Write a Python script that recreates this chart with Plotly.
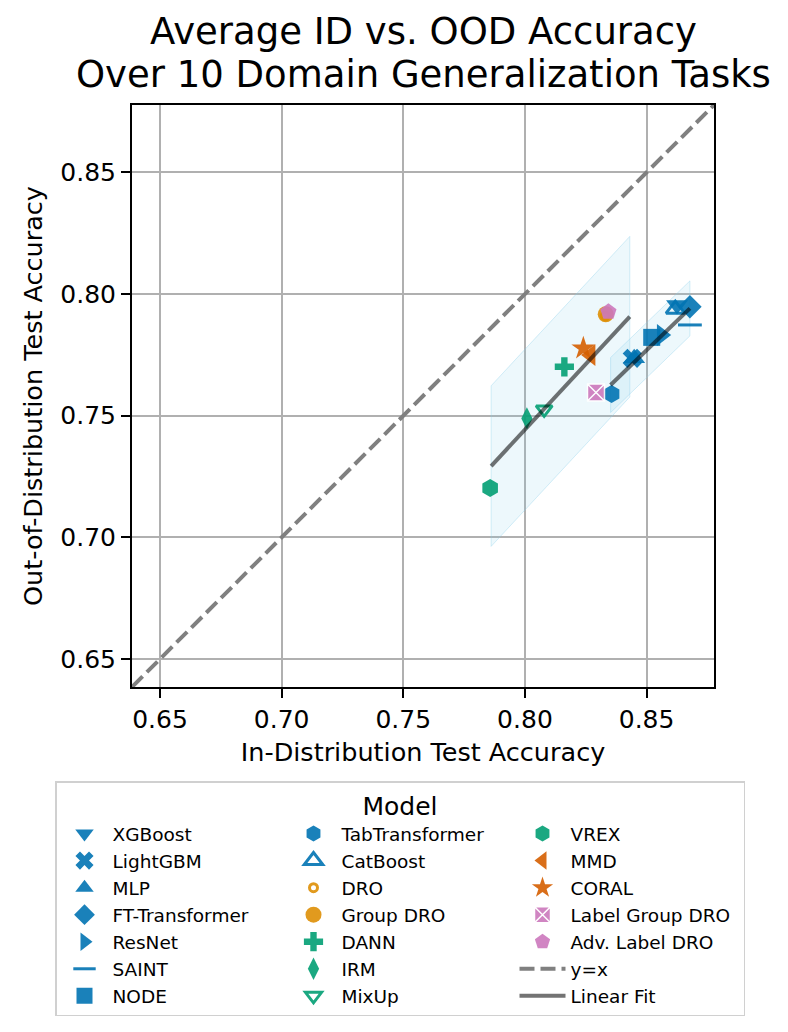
import numpy as np
import plotly.graph_objects as go

# --- Data ---
models = [
    "XGBoost", "LightGBM", "MLP", "FT-Transformer", "ResNet", "SAINT", "NODE",
    "TabTransformer", "CatBoost", "DRO", "Group DRO", "DANN", "IRM", "MixUp",
    "VREX", "MMD", "CORAL", "Label Group DRO", "Adv. Label DRO",
]
id_acc = [
    0.8625, 0.8441, 0.8449, 0.8678, 0.8562, 0.8678, 0.8521,
    0.8356, 0.8618, 0.8330, 0.8332, 0.8162, 0.8008, 0.8079,
    0.7857, 0.8270, 0.8240, 0.8292, 0.8343,
]
ood_acc = [
    0.7955, 0.7736, 0.7736, 0.7948, 0.7832, 0.7873, 0.7822,
    0.7589, 0.7938, 0.7910, 0.7917, 0.7701, 0.7489, 0.7526,
    0.7203, 0.7749, 0.7777, 0.7595, 0.7927,
]

# linear fits (end points) and half width of the shaded band
fit1_x = [0.7861, 0.8431]
fit1_y = [0.7293, 0.7907]
fit1_halfwidth = 0.033
fit2_x = [0.8352, 0.8678]
fit2_y = [0.7626, 0.7941]
fit2_halfwidth = 0.0113

axis_range = [0.6385, 0.8777]
tick_vals = [0.65, 0.70, 0.75, 0.80, 0.85]

title_lines = ["Average ID vs. OOD Accuracy", "Over 10 Domain Generalization Tasks"]

# --- Styles ---
BLUE = "#0173B2"
ORANGE = "#DE8F05"
GREEN = "#029E73"
RED = "#D55E00"
PINK = "#CC78BC"

style = {
    "XGBoost": ("triangle-down", BLUE, 19),
    "LightGBM": ("x", BLUE, 17),
    "MLP": ("triangle-up", BLUE, 19),
    "FT-Transformer": ("diamond", BLUE, 18),
    "ResNet": ("triangle-right", BLUE, 19),
    "SAINT": ("line-ew", BLUE, 17),
    "NODE": ("square", BLUE, 17),
    "TabTransformer": ("hexagon", BLUE, 18),
    "CatBoost": ("triangle-up-open", BLUE, 16),
    "DRO": ("circle-open", ORANGE, 8),
    "Group DRO": ("circle", ORANGE, 16),
    "DANN": ("cross", GREEN, 16),
    "IRM": ("diamond-tall", GREEN, 16),
    "MixUp": ("triangle-down-open", GREEN, 14),
    "VREX": ("hexagon", GREEN, 18),
    "MMD": ("triangle-left", RED, 19),
    "CORAL": ("star", RED, 18),
    "Label Group DRO": ("square-x", PINK, 17),
    "Adv. Label DRO": ("pentagon", PINK, 17),
}

FONT = "DejaVu Sans"
N_ROWS = 7
W, H = 788, 1032
OFFSET = 8  # the page body adds 8px on the top/left

# plot area in pixels as seen in the reference
PLOT_TOP, PLOT_BOTTOM = 105 - OFFSET, 687 - OFFSET
PLOT_LEFT, PLOT_RIGHT = 132 - OFFSET, 714 - OFFSET
PLOT_H = PLOT_BOTTOM - PLOT_TOP
PLOT_W = PLOT_RIGHT - PLOT_LEFT


def legend_rank(i):
    # legend is laid out in 3 columns, filled column by column
    col, row = divmod(i, N_ROWS)
    return 10 + row * 3 + col


def band(xs, ys, h):
    return ([xs[0], xs[1], xs[1], xs[0], xs[0]],
            [ys[0] + h, ys[1] + h, ys[1] - h, ys[0] - h, ys[0] + h])


fig = go.Figure()

# shaded bands
for xs, ys, h in [(fit1_x, fit1_y, fit1_halfwidth), (fit2_x, fit2_y, fit2_halfwidth)]:
    bx, by = band(xs, ys, h)
    fig.add_trace(go.Scatter(
        x=bx, y=by, mode="lines", fill="toself",
        fillcolor="rgba(135,206,235,0.15)",
        line=dict(color="rgba(135,206,235,0.35)", width=1),
        showlegend=False, hoverinfo="skip",
    ))

# y = x reference
fig.add_trace(go.Scatter(
    x=axis_range, y=axis_range, mode="lines", name="y=x",
    line=dict(color="gray", width=4, dash="15px,6px"),
    legendrank=legend_rank(len(models)),
))

# model points
for i, (m, xv, yv) in enumerate(zip(models, id_acc, ood_acc)):
    sym, col, size = style[m]
    marker = dict(symbol=sym, color=col, size=size, opacity=0.9)
    if sym.endswith("open") or sym == "line-ew":
        marker["line"] = dict(color=col, width=3)
    elif sym == "square-x":
        marker["line"] = dict(color="white", width=1.5)
    else:
        marker["line"] = dict(width=0)
    fig.add_trace(go.Scatter(
        x=[xv], y=[yv], mode="markers", name=m, marker=marker,
        legendrank=legend_rank(i),
    ))

# fit lines
for k, (xs, ys) in enumerate([(fit1_x, fit1_y), (fit2_x, fit2_y)]):
    fig.add_trace(go.Scatter(
        x=xs, y=ys, mode="lines", name="Linear Fit",
        line=dict(color="rgba(0,0,0,0.55)", width=4),
        showlegend=(k == 0), legendrank=legend_rank(len(models) + 1),
    ))

# two-line title
for text, py in zip(title_lines, [31, 75]):
    fig.add_annotation(
        text=text, x=0.5, xref="paper", xanchor="center",
        y=(PLOT_BOTTOM - (py - OFFSET)) / PLOT_H, yref="paper", yanchor="middle",
        showarrow=False, font=dict(size=37, color="black"),
    )

axis_common = dict(
    range=axis_range, tickvals=tick_vals, tickformat=".2f",
    showgrid=True, gridcolor="#b0b0b0", gridwidth=2,
    showline=True, linecolor="black", linewidth=2, mirror=True,
    ticks="outside", ticklen=9, tickwidth=2, tickcolor="black",
    tickfont=dict(size=25, color="black"), zeroline=False,
)

fig.update_layout(
    width=W, height=H,
    margin=dict(l=PLOT_LEFT, r=W - PLOT_RIGHT, t=PLOT_TOP, b=H - PLOT_BOTTOM),
    paper_bgcolor="white", plot_bgcolor="white",
    font=dict(family=FONT, color="black"),
    xaxis=dict(axis_common, title=dict(text="In-Distribution Test Accuracy",
                                       font=dict(size=25.5), standoff=10)),
    yaxis=dict(axis_common, title=dict(text="Out-of-Distribution Test Accuracy",
                                       font=dict(size=25.5), standoff=10)),
    legend=dict(
        orientation="h",
        x=(55 - OFFSET - PLOT_LEFT) / PLOT_W, xanchor="left",
        y=(PLOT_BOTTOM - (781 - OFFSET)) / PLOT_H, yanchor="top",
        itemwidth=46, entrywidth=168, entrywidthmode="pixels",
        title=dict(text="Model", side="top center", font=dict(size=25)),
        font=dict(size=18.5, color="black"),
        bordercolor="#d0d0d0", borderwidth=1.5, bgcolor="white",
    ),
    showlegend=True,
)

fig.write_html("out.html")
